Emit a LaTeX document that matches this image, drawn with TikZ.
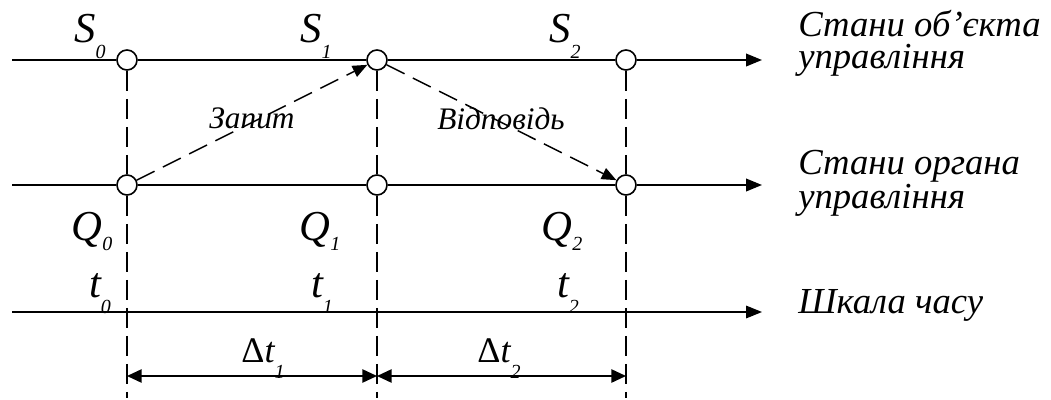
\documentclass[tikz,border=0pt]{standalone}
\usepackage{fontspec}
\setmainfont{Liberation Serif}
\usetikzlibrary{arrows.meta,positioning}
\newcommand{\lowidx}[3][12pt]{#2\raisebox{-#1}{\fontsize{15}{15}\selectfont #3}}
\tikzset{
  state/.style={
    circle,
    draw,
    fill=white,
    line width=1.2pt,
    minimum size=15pt,
    inner sep=0pt
  },
  tip/.style={Triangle[length=12pt,width=9.5pt]},
  axis/.style={line width=1.3pt,-{Triangle[length=12pt,width=9.5pt]}},
  guide/.style={line width=1.1pt,dash pattern=on 15pt off 6pt},
  msg/.style={line width=1.1pt,dash pattern=on 15pt off 7pt,
    -{Triangle[length=11pt,width=9pt]}},
  dimarr/.style={line width=1.2pt,
    {Triangle[length=11pt,width=10pt]}-{Triangle[length=11pt,width=10pt]}},
  biglbl/.style={font=\itshape\fontsize{32}{32}\selectfont,inner sep=0pt,anchor=base},
  msglbl/.style={font=\itshape\fontsize{23.5}{23.5}\selectfont,inner sep=0pt},
  axlbl/.style={font=\itshape\fontsize{27.5}{24}\selectfont,inner sep=0pt,
    align=left,anchor=base west}
}
\begin{document}
\begin{tikzpicture}[x=0.75pt,y=-0.75pt]
  \useasboundingbox (0,0) rectangle (1051,400);

  % states on the object line and on the control line
  \node[state] (s0) at (127,60) {};
  \node[state] (s1) at (377,60) {};
  \node[state] (s2) at (626,60) {};
  \node[state] (q0) at (127,185) {};
  \node[state] (q1) at (377,185) {};
  \node[state] (q2) at (626,185) {};

  \coordinate (l1) at (12,60);
  \coordinate (r1) at (762,60);
  \coordinate (l2) at (12,185);
  \coordinate (r2) at (762,185);
  \coordinate (l3) at (12,312);
  \coordinate (r3) at (762,312);
  \coordinate (b0) at (127,398);
  \coordinate (b1) at (377,398);
  \coordinate (b2) at (626,398);
  \coordinate (d0) at (127,376);
  \coordinate (d1) at (377,376);
  \coordinate (d2) at (626,376);

  \draw[axis] (l1) -- (s0) -- (s1) -- (s2) -- (r1);
  \draw[axis] (l2) -- (q0) -- (q1) -- (q2) -- (r2);
  \draw[axis,line width=0.9pt] (l3) -- (r3);

  % vertical guides
  \draw[guide] (s0) -- (q0) (q0) -- (b0);
  \draw[guide] (s1) -- (q1) (q1) -- (b1);
  \draw[guide] (s2) -- (q2) (q2) -- (b2);

  % request / response
  \draw[msg] (q0) -- (s1);
  \draw[msg] (s1) -- (q2);
  \node[msglbl] (req) at (252,118) {Запит};
  \node[msglbl] (resp) at (501,119) {Відповідь};

  % intervals
  \draw[dimarr] (d0) -- (d1);
  \draw[dimarr] (d1) -- (d2);

  \node[biglbl] (ls0) at (90,42) {\lowidx{S}{0}};
  \node[biglbl] (ls1) at (316,42) {\lowidx{S}{1}};
  \node[biglbl] (ls2) at (565,42) {\lowidx{S}{2}};
  \node[biglbl] (lq0) at (92,240) {\lowidx[7.5pt]{Q}{0}};
  \node[biglbl] (lq1) at (320,240) {\lowidx[7.5pt]{Q}{1}};
  \node[biglbl] (lq2) at (562,240) {\lowidx[7.5pt]{Q}{2}};
  \node[biglbl] (lt0) at (100,297) {\lowidx{t}{0}};
  \node[biglbl] (lt1) at (322,297) {\lowidx{t}{1}};
  \node[biglbl] (lt2) at (568,297) {\lowidx{t}{2}};
  \node[biglbl,font=\itshape\fontsize{27}{27}\selectfont] (dt1) at (263,362)
    {{\upshape Δ}\lowidx{t}{1}};
  \node[biglbl,font=\itshape\fontsize{27}{27}\selectfont] (dt2) at (499,362)
    {{\upshape Δ}\lowidx{t}{2}};

  % axis captions
  \node[axlbl] (obj) at (798,68) {Стани об’єкта\\управління};
  \node[axlbl] (ctl) at (798,208) {Стани органа\\управління};
  \node[axlbl,font=\itshape\fontsize{27.5}{27.5}\selectfont] (time) at (798,313) {Шкала часу};
\end{tikzpicture}
\end{document}
